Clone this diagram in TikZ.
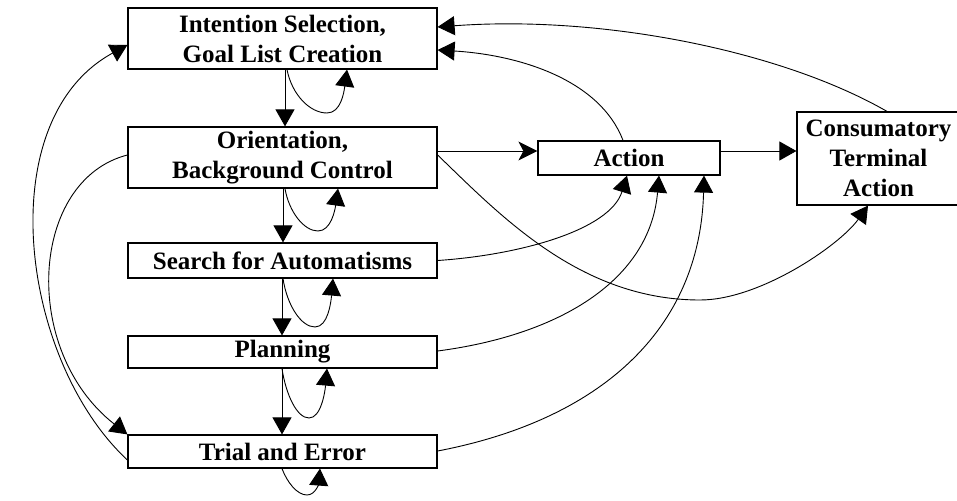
\documentclass[tikz,border=0pt]{standalone}
\usepackage{fontspec}
\setmainfont{Liberation Serif}
\usetikzlibrary{arrows.meta}
\begin{document}
\begin{tikzpicture}[x=1pt,y=-1pt,
  box/.style={draw, line width=1.2pt, inner sep=0pt, align=center,
    font=\bfseries\fontsize{25}{30}\selectfont},
  arr/.style={-{Triangle[length=17pt,width=19pt]}, line width=0.9pt},
  sarr/.style={-{Stealth[length=19pt,width=19pt,inset=5pt]}, line width=0.9pt}]
\useasboundingbox (0,0) rectangle (957,500);
\node[box, minimum width=309pt, minimum height=61pt] (b1) at (282.5,38.5) {Intention Selection,\\Goal List Creation};
\node[box, minimum width=309pt, minimum height=61pt] (b2) at (282.5,157.5) {Orientation,\\Background Control};
\node[box, minimum width=309pt, minimum height=35pt] (b3) at (282.5,260.5) {Search for Automatisms};
\node[box, minimum width=309pt, minimum height=32pt] (b4) at (282.5,352) {Planning};
\node[box, minimum width=309pt, minimum height=33pt] (b5) at (282.5,451.5) {Trial and Error};
\node[box, minimum width=182pt, minimum height=34pt] (act) at (629,158) {Action};
\node[box, minimum width=163pt, minimum height=93pt] (con) at (878.5,158.5) {Consumatory\\Terminal\\Action};
% vertical chain
\draw[arr] ([xshift=2.5pt]b1.south) -- ([xshift=2.5pt]b2.north);
\draw[arr] ([xshift=0.5pt]b2.south) -- ([xshift=0.5pt]b3.north);
\draw[arr] ([xshift=-0.5pt]b3.south) -- ([xshift=-0.5pt]b4.north);
\draw[arr] ([xshift=-0.5pt]b4.south) -- ([xshift=-0.5pt]b5.north);
% self loops
\draw[arr] ([xshift=4.5pt]b1.south) .. controls (292,95) and (310,113) .. (327,113) .. controls (341,113) and (344,92) .. ([xshift=64.5pt]b1.south);
\draw[arr] ([xshift=2.5pt]b2.south) .. controls (289,212) and (304,231) .. (318,231) .. controls (331,231) and (335,210) .. ([xshift=55.5pt]b2.south);
\draw[arr] ([xshift=0.5pt]b3.south) .. controls (287,305) and (301,327) .. (315,327) .. controls (328,327) and (331,302) .. ([xshift=50.5pt]b3.south);
\draw[arr] ([xshift=-0.5pt]b4.south) .. controls (286,395) and (297,418) .. (309,418) .. controls (321,418) and (325,392) .. ([xshift=44.5pt]b4.south);
\draw[arr] ([xshift=-0.5pt]b5.south) .. controls (287,482) and (297,495) .. (307,495) .. controls (316,495) and (319,482) .. ([xshift=37.5pt]b5.south);
% right side
\draw[sarr] ([yshift=6.5pt]b2.east) -- ([yshift=7pt]act.west);
\draw[arr] ([yshift=7pt]act.east) -- ([yshift=7.5pt]con.west);
\draw[arr] ([xshift=-6pt]act.north) .. controls (600,80) and (520,55) .. ([yshift=-11.5pt]b1.east);
\draw[arr] ([xshift=8.5pt]con.north) .. controls (780,50) and (600,15) .. ([yshift=11.5pt]b1.east);
\draw[arr] ([yshift=2.5pt]b2.east) .. controls (500,215) and (580,300) .. (700,300) .. controls (760,300) and (840,245) .. ([xshift=-10.5pt]con.south);
\draw[arr] (b3.east) .. controls (520,255) and (610,230) .. ([xshift=-2pt]act.south);
\draw[arr] ([yshift=1pt]b4.east) .. controls (560,335) and (650,280) .. ([xshift=30pt]act.south);
\draw[arr] ([yshift=0.5pt]b5.east) .. controls (600,420) and (700,330) .. ([xshift=75pt]act.south);
% left side
\draw[arr] ([yshift=-8.5pt]b5.west) .. controls (20,360) and (-10,120) .. ([yshift=-6.5pt]b1.west);
\draw[arr] ([yshift=2.5pt]b2.west) .. controls (30,180) and (20,350) .. (b5.north west);
\end{tikzpicture}
\end{document}
